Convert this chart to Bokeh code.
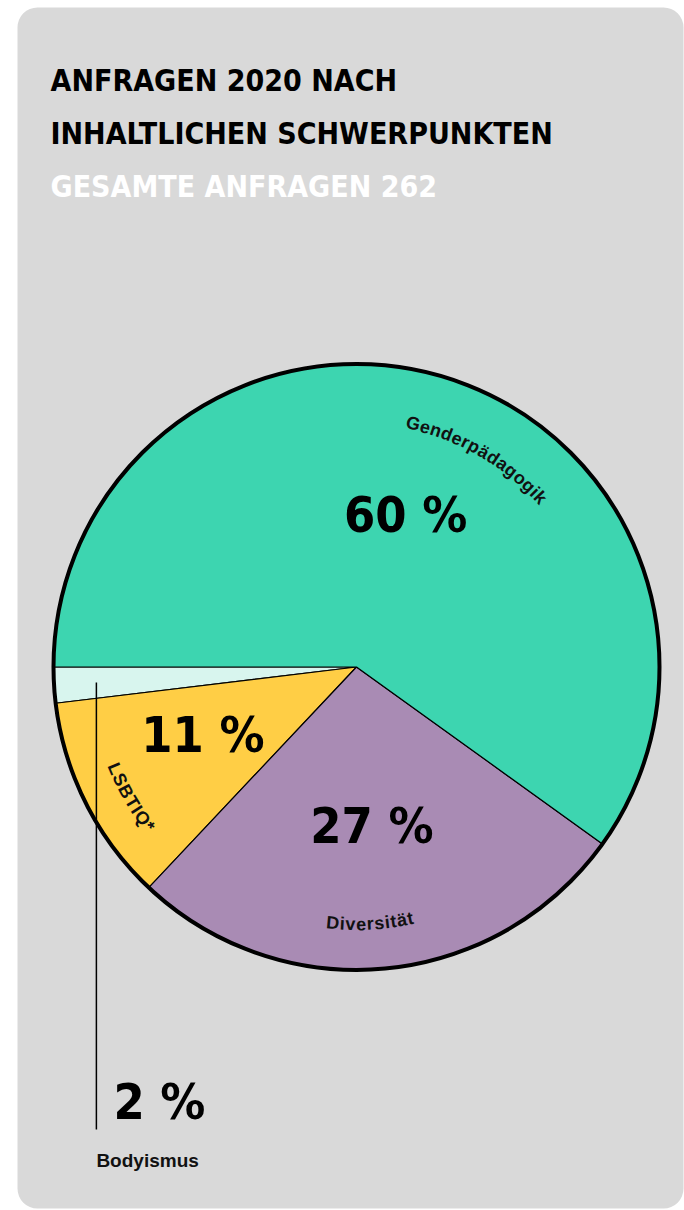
import math
from bokeh.plotting import figure
from bokeh.models import Range1d, BoxAnnotation, ColumnDataSource
from bokeh.core.properties import value
from bokeh.embed import file_html
from bokeh.resources import INLINE

# ---------------- data ----------------
categories = ["Bodyismus", "LSBTIQ*", "Diversität", "Genderpädagogik"]
counts = [5, 29, 71, 157]
colors = ["#D8F5EE", "#FFCE45", "#A98BB4", "#3DD5B0"]
title_lines = ["ANFRAGEN 2020 NACH", "INHALTLICHEN SCHWERPUNKTEN"]
subtitle_prefix = "GESAMTE ANFRAGEN"

total = sum(counts)
pcts = [round(100 * c / total) for c in counts]

# ---------------- layout ----------------
W, H = 684, 1210
CX, CY, R = 356, -666.5, 303

p = figure(width=W, height=H, x_range=Range1d(0, W), y_range=Range1d(-H, 0),
           output_backend="svg", toolbar_location=None, min_border=0)
p.axis.visible = False
p.grid.visible = False
p.outline_line_color = None
p.background_fill_color = "white"
p.border_fill_color = "white"

card = BoxAnnotation(left=17, right=683, top=-7, bottom=-1208, fill_color="#D9D9D9",
                     fill_alpha=1, line_color=None, border_radius=20, level="underlay")
p.add_layout(card)

# wedges (anticlockwise starting at the left, 180 deg)
starts, ends = [], []
a = math.pi
for c in counts:
    starts.append(a)
    a += 2 * math.pi * c / total
    ends.append(a)
src = ColumnDataSource(dict(start=starts, end=ends, color=colors, cat=categories))
p.wedge(x=CX, y=CY, radius=R, start_angle="start", end_angle="end", source=src,
        fill_color="color", line_color="black", line_width=1.2)
p.circle(x=[CX], y=[CY], radius=R, fill_color=None, line_color="black", line_width=4)

# percentage labels inside large slices
BIG_FONT = "DejaVu Sans Condensed"
label_r = [None, 168, 160, 160]
lx, ly, lt = [], [], []
for i in range(1, 4):
    mid = (starts[i] + ends[i]) / 2
    off = -0.05 if i == 1 else 0.0
    lx.append(CX + label_r[i] * math.cos(mid + off))
    ly.append(CY + label_r[i] * math.sin(mid + off))
    lt.append(f"{pcts[i]} %")
p.text(x=lx, y=ly, text=lt, text_font=value(BIG_FONT), text_font_style="bold",
       text_font_size="50px", text_align="center", text_baseline="middle", text_color="black")

# callout for the small slice
mid0 = (starts[0] + ends[0]) / 2
x0 = CX + 0.86 * R * math.cos(mid0)
y0 = CY + 0.86 * R * math.sin(mid0)
p.segment(x0=[x0], y0=[y0], x1=[x0], y1=[-1129], line_color="black", line_width=1.5)
p.text(x=[x0 + 17], y=[-1101], text=[f"{pcts[0]} %"], text_font=value(BIG_FONT),
       text_font_style="bold", text_font_size="50px", text_align="left",
       text_baseline="middle", text_color="black")
p.text(x=[x0], y=[-1160], text=[categories[0]], text_font=value("Liberation Sans"),
       text_font_style="bold", text_font_size="19px", text_align="left",
       text_baseline="middle", text_color="#111111")

# curved category labels
CW = {"G": .778, "e": .556, "n": .611, "d": .611, "r": .389, "p": .611, "ä": .556,
      "a": .556, "g": .611, "o": .611, "i": .278, "k": .556, "D": .722, "v": .556,
      "s": .556, "t": .333, "L": .611, "S": .667, "B": .722, "T": .611, "I": .278,
      "Q": .778, "*": .389}


def arc_text(s, theta_deg, rad, fs, sp, outward):
    widths = [CW.get(ch, .6) * fs for ch in s]
    L = sum(widths) + sp * (len(s) - 1)
    pos = -L / 2
    xs, ys, angs = [], [], []
    tc = math.radians(theta_deg)
    for w in widths:
        d = (pos + w / 2) / rad
        if outward:
            th = tc - d
            rot = th - math.pi / 2
        else:
            th = tc + d
            rot = th + math.pi / 2
        xs.append(CX + rad * math.cos(th))
        ys.append(CY + rad * math.sin(th))
        angs.append(rot)
        pos += w + sp
    return xs, ys, list(s), angs


arc_specs = [(categories[3], 60, 250, True), (categories[2], 273, 257, False),
             (categories[1], 210, 262, False)]
for name, th, rad, out in arc_specs:
    xs, ys, chars, angs = arc_text(name, th, rad, 18, 0.6, out)
    p.text(x=xs, y=ys, text=chars, angle=angs, text_font=value("Liberation Sans"),
           text_font_style="bold", text_font_size="18px", text_align="center",
           text_baseline="middle", text_color="#111111")

# title
p.text(x=[50, 50], y=[-80, -133], text=title_lines, text_font=value(BIG_FONT),
       text_font_style="bold", text_font_size="30px", text_align="left",
       text_baseline="alphabetic", text_color="black")
p.text(x=[50], y=[-186], text=[f"{subtitle_prefix} {total}"], text_font=value(BIG_FONT),
       text_font_style="bold", text_font_size="30px", text_align="left",
       text_baseline="alphabetic", text_color="white")

open("out.html", "w").write(file_html(p, INLINE))
